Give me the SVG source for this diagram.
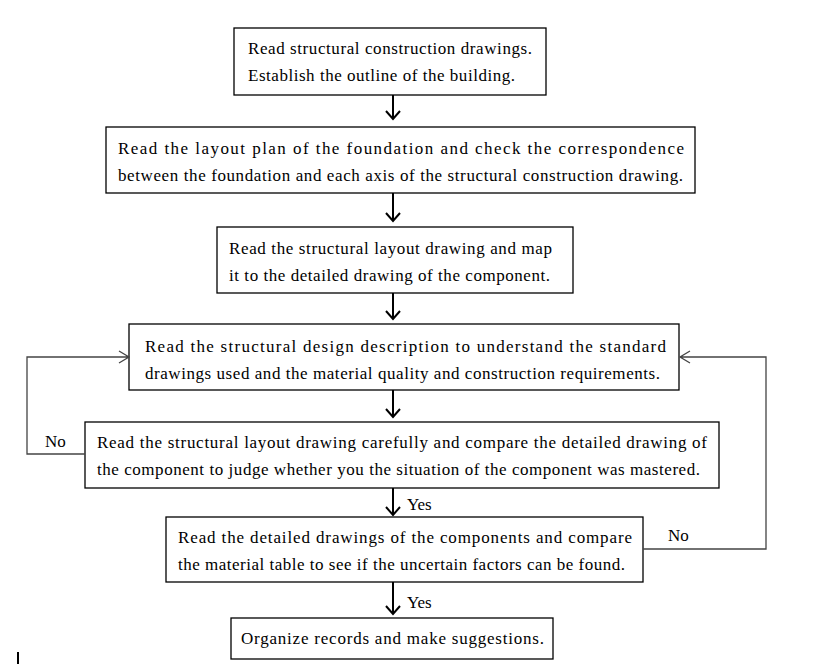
<svg xmlns="http://www.w3.org/2000/svg" width="813" height="664" viewBox="0 0 813 664">
<style>
.box{fill:#fff;stroke:#000;stroke-width:1.3}
text{font-family:"Liberation Serif","Times New Roman",serif;font-size:17px;fill:#000}
.arr{fill:none;stroke:#000;stroke-width:2}
.loop{fill:none;stroke:#444;stroke-width:1.3}
</style>
<rect width="813" height="664" fill="#fff"/>
<g id="n1"><rect class="box" x="234" y="28" width="312" height="67"/>
<text x="248" y="54" textLength="284" lengthAdjust="spacing">Read structural construction drawings.</text>
<text x="248" y="81" textLength="267" lengthAdjust="spacing">Establish the outline of the building.</text></g>
<g id="n2"><rect class="box" x="106" y="127" width="589" height="66"/>
<text x="118" y="154" textLength="566" lengthAdjust="spacing">Read the layout plan of the foundation and check the correspondence</text>
<text x="118" y="181" textLength="565" lengthAdjust="spacing">between the foundation and each axis of the structural construction drawing.</text></g>
<g id="n3"><rect class="box" x="217" y="227" width="356" height="66"/>
<text x="229" y="254" textLength="323" lengthAdjust="spacing">Read the structural layout drawing and map</text>
<text x="229" y="281" textLength="321" lengthAdjust="spacing">it to the detailed drawing of the component.</text></g>
<g id="n4"><rect class="box" x="129" y="324" width="550" height="66"/>
<text x="145" y="352" textLength="521" lengthAdjust="spacing">Read the structural design description to understand the standard</text>
<text x="145" y="379" textLength="515" lengthAdjust="spacing">drawings used and the material quality and construction requirements.</text></g>
<g id="n5"><rect class="box" x="85" y="422" width="634" height="66"/>
<text x="97" y="448" textLength="610" lengthAdjust="spacing">Read the structural layout drawing carefully and compare the detailed drawing of</text>
<text x="97" y="475" textLength="603" lengthAdjust="spacing">the component to judge whether you the situation of the component was mastered.</text></g>
<g id="n6"><rect class="box" x="166" y="517" width="477" height="65"/>
<text x="178" y="543" textLength="454" lengthAdjust="spacing">Read the detailed drawings of the components and compare</text>
<text x="178" y="570" textLength="447" lengthAdjust="spacing">the material table to see if the uncertain factors can be found.</text></g>
<g id="n7"><rect class="box" x="231" y="618" width="322" height="41"/>
<text x="241" y="644" textLength="303" lengthAdjust="spacing">Organize records and make suggestions.</text></g>
<g id="connectors">
<path class="arr" d="M393 95V119M386 111L393 119L400 111"/>
<path class="arr" d="M393 193V221M386 213L393 221L400 213"/>
<path class="arr" d="M393 293V319M386 311L393 319L400 311"/>
<path class="arr" d="M393 390V417M386 409L393 417L400 409"/>
<path class="arr" d="M393 488V515M386 507L393 515L400 507"/>
<path class="arr" d="M393 582V614M386 606L393 614L400 606"/>
<path class="loop" d="M85 454H27V357H128M119 351L129 357L119 363"/>
<path class="loop" d="M643 549H766V357H680M690 351L680 357L690 363"/>
<text x="407" y="510">Yes</text>
<text x="407" y="608">Yes</text>
<text x="45" y="447">No</text>
<text x="668" y="541">No</text>
</g>
<rect x="17" y="652" width="2" height="12" fill="#000"/>
</svg>
